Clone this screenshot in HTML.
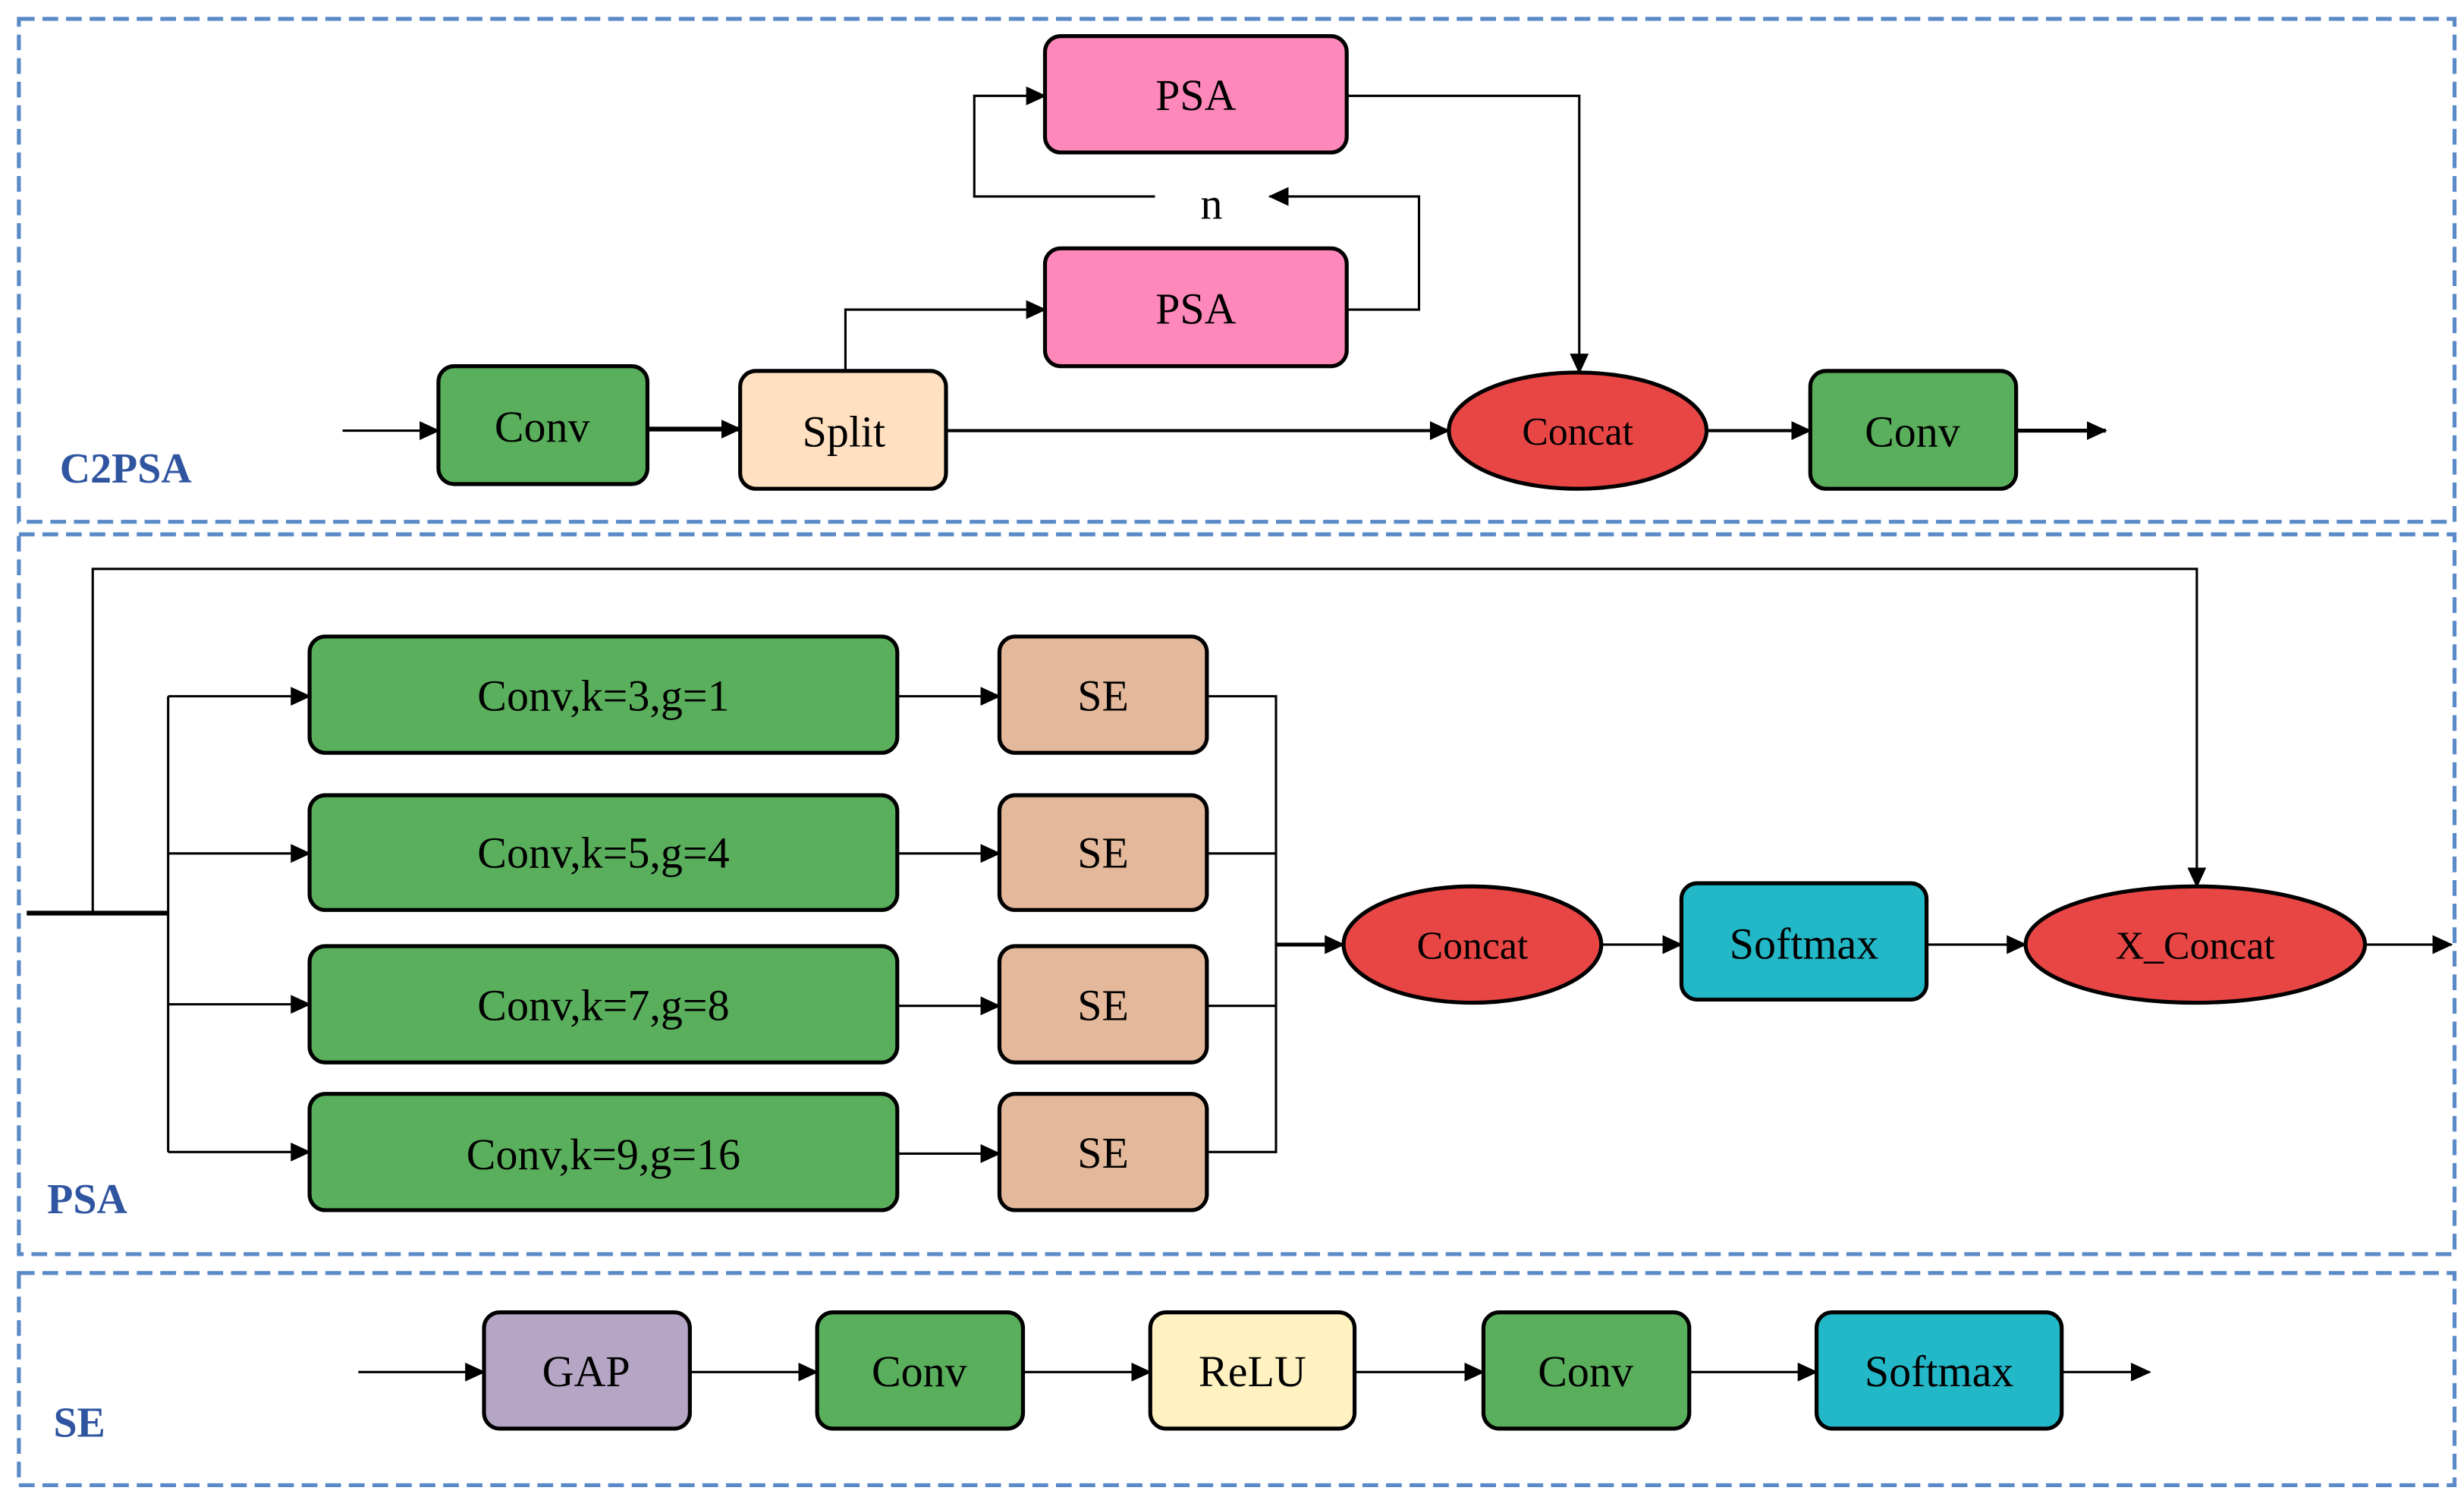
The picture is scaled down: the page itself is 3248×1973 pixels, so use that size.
<!DOCTYPE html>
<html><head><meta charset="utf-8"><style>
html,body{margin:0;padding:0;background:#fff;}
svg{display:block;}
text{font-family:"Liberation Serif",serif;}
</style></head><body>
<svg width="3248" height="1973" viewBox="0 0 1568 952.5" xmlns="http://www.w3.org/2000/svg">
<defs>
<marker id="a" markerWidth="13" markerHeight="12" refX="12" refY="6" orient="auto" markerUnits="userSpaceOnUse" viewBox="0 0 13 12"><path d="M0,0 L13,6 L0,12 z" fill="#000"/></marker>
</defs>
<g fill="none" stroke="#5b8ac8" stroke-width="2.5" stroke-dasharray="10 5">
<rect x="12" y="12" width="1550" height="320"/>
<rect x="12" y="340" width="1550" height="458"/>
<rect x="12" y="810" width="1550" height="135"/>
</g>
<g font-weight="bold" fill="#2f55a0" font-size="27">
<text x="38" y="307">C2PSA</text>
<text x="30" y="772">PSA</text>
<text x="34" y="914">SE</text>
</g>
<g stroke="#000" stroke-width="2.5">
<rect x="665" y="23" width="192" height="74" rx="10" fill="#ff88bb"/>
<rect x="665" y="158" width="192" height="75" rx="10" fill="#ff88bb"/>
<rect x="279" y="233" width="133" height="75" rx="10" fill="#5aaf5c"/>
<rect x="471" y="236" width="131" height="75" rx="10" fill="#ffe0c0"/>
<ellipse cx="1004" cy="274" rx="82" ry="37" fill="#e84545"/>
<rect x="1152" y="236" width="131" height="75" rx="10" fill="#5aaf5c"/>
<rect x="197" y="405" width="374" height="74" rx="10" fill="#5aaf5c"/>
<rect x="197" y="506" width="374" height="73" rx="10" fill="#5aaf5c"/>
<rect x="197" y="602" width="374" height="74" rx="10" fill="#5aaf5c"/>
<rect x="197" y="696" width="374" height="74" rx="10" fill="#5aaf5c"/>
<rect x="636" y="405" width="132" height="74" rx="10" fill="#e4b89a"/>
<rect x="636" y="506" width="132" height="73" rx="10" fill="#e4b89a"/>
<rect x="636" y="602" width="132" height="74" rx="10" fill="#e4b89a"/>
<rect x="636" y="696" width="132" height="74" rx="10" fill="#e4b89a"/>
<ellipse cx="937" cy="601" rx="82" ry="37" fill="#e84545"/>
<rect x="1070" y="562" width="156" height="74" rx="10" fill="#22b8c8"/>
<ellipse cx="1397" cy="601" rx="108" ry="37" fill="#e84545"/>
<rect x="308" y="835" width="131" height="74" rx="10" fill="#b6a6c6"/>
<rect x="520" y="835" width="131" height="74" rx="10" fill="#5aaf5c"/>
<rect x="732" y="835" width="130" height="74" rx="10" fill="#fff2c0"/>
<rect x="944" y="835" width="131" height="74" rx="10" fill="#5aaf5c"/>
<rect x="1156" y="835" width="156" height="74" rx="10" fill="#22b8c8"/>
</g>
<g fill="none" stroke="#000" stroke-width="1.5">
<polyline points="735,125 620,125 620,61 665,61" marker-end="url(#a)"/>
<polyline points="857,197 903,197 903,125 808,125" marker-end="url(#a)"/>
<polyline points="857,61 1005,61 1005,237" marker-end="url(#a)"/>
<line x1="218" y1="274" x2="279" y2="274" marker-end="url(#a)"/>
<line x1="412" y1="273" x2="471" y2="273" stroke-width="3" marker-end="url(#a)"/>
<polyline points="538,236 538,197 665,197" marker-end="url(#a)"/>
<line x1="602" y1="274" x2="922" y2="274" stroke-width="2" marker-end="url(#a)"/>
<line x1="1086" y1="274" x2="1152" y2="274" stroke-width="2" marker-end="url(#a)"/>
<line x1="1283" y1="274" x2="1340" y2="274" stroke-width="2.5" marker-end="url(#a)"/>
<line x1="17" y1="581" x2="107" y2="581" stroke-width="3"/>
<line x1="107" y1="443" x2="107" y2="733"/>
<line x1="107" y1="443" x2="197" y2="443" marker-end="url(#a)"/>
<line x1="107" y1="543" x2="197" y2="543" marker-end="url(#a)"/>
<line x1="107" y1="639" x2="197" y2="639" marker-end="url(#a)"/>
<line x1="107" y1="733" x2="197" y2="733" marker-end="url(#a)"/>
<polyline points="59,581 59,362 1398,362 1398,564" marker-end="url(#a)"/>
<line x1="571" y1="443" x2="636" y2="443" marker-end="url(#a)"/>
<line x1="571" y1="543" x2="636" y2="543" marker-end="url(#a)"/>
<line x1="571" y1="640" x2="636" y2="640" marker-end="url(#a)"/>
<line x1="571" y1="734" x2="636" y2="734" marker-end="url(#a)"/>
<polyline points="768,443 812,443 812,733 768,733"/>
<line x1="768" y1="543" x2="812" y2="543"/>
<line x1="768" y1="640" x2="812" y2="640"/>
<line x1="812" y1="601" x2="855" y2="601" stroke-width="2.5" marker-end="url(#a)"/>
<line x1="1019" y1="601" x2="1070" y2="601" marker-end="url(#a)"/>
<line x1="1226" y1="601" x2="1289" y2="601" marker-end="url(#a)"/>
<line x1="1505" y1="601" x2="1560" y2="601" marker-end="url(#a)"/>
<line x1="228" y1="873" x2="308" y2="873" marker-end="url(#a)"/>
<line x1="439" y1="873" x2="520" y2="873" marker-end="url(#a)"/>
<line x1="651" y1="873" x2="732" y2="873" marker-end="url(#a)"/>
<line x1="862" y1="873" x2="944" y2="873" marker-end="url(#a)"/>
<line x1="1075" y1="873" x2="1156" y2="873" marker-end="url(#a)"/>
<line x1="1312" y1="873" x2="1368" y2="873" marker-end="url(#a)"/>
</g>
<g font-size="28" text-anchor="middle" fill="#000">
<text x="761" y="70">PSA</text>
<text x="771" y="139">n</text>
<text x="761" y="206">PSA</text>
<text x="345" y="281">Conv</text>
<text x="537" y="284">Split</text>
<text x="1004" y="283" font-size="25">Concat</text>
<text x="1217" y="284">Conv</text>
<text x="384" y="452">Conv,k=3,g=1</text>
<text x="384" y="552">Conv,k=5,g=4</text>
<text x="384" y="649">Conv,k=7,g=8</text>
<text x="384" y="744">Conv,k=9,g=16</text>
<text x="702" y="452">SE</text>
<text x="702" y="552">SE</text>
<text x="702" y="649">SE</text>
<text x="702" y="743">SE</text>
<text x="937" y="610" font-size="25">Concat</text>
<text x="1148" y="610">Softmax</text>
<text x="1397" y="610" font-size="25">X_Concat</text>
<text x="373" y="882">GAP</text>
<text x="585" y="882">Conv</text>
<text x="797" y="882">ReLU</text>
<text x="1009" y="882">Conv</text>
<text x="1234" y="882">Softmax</text>
</g>
</svg>
</body></html>
